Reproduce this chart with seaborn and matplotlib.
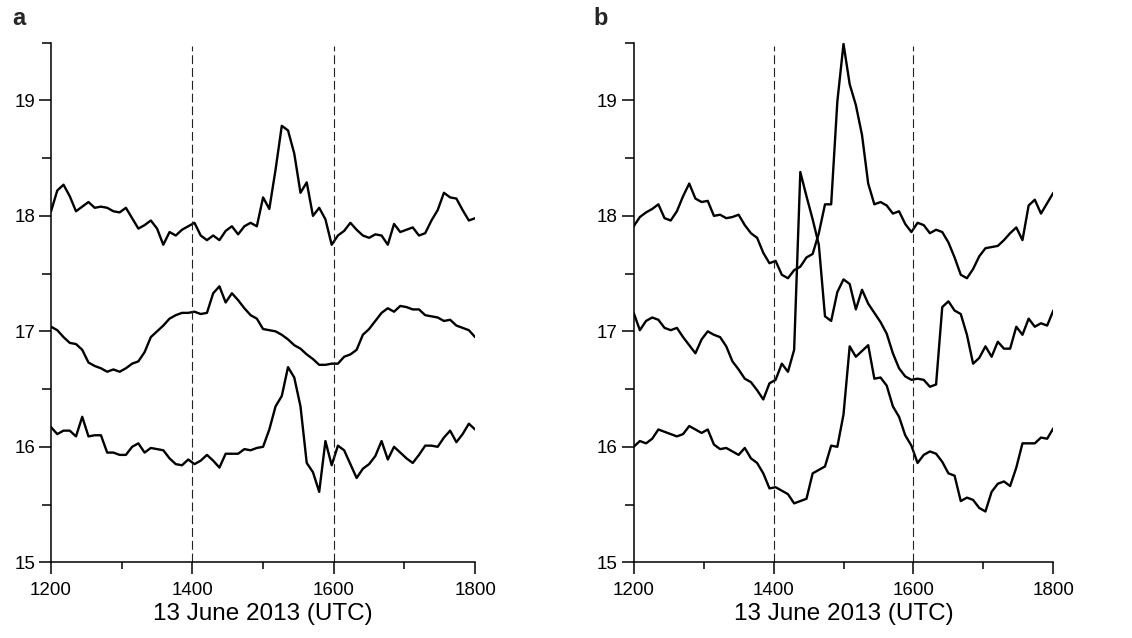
import numpy as np
import pandas as pd
import matplotlib
matplotlib.use("Agg")
import matplotlib.pyplot as plt
from matplotlib.ticker import MultipleLocator, FixedLocator
import seaborn as sns

# ---- data: three traces per panel, sampled evenly from 1200 to 1800 UTC ----
panel_a_upper = [18.04, 18.22, 18.27, 18.17, 18.04, 18.08, 18.12, 18.07, 18.08, 18.07,
                 18.04, 18.03, 18.07, 17.98, 17.89, 17.92, 17.96, 17.89, 17.75, 17.86,
                 17.83, 17.88, 17.91, 17.94, 17.83, 17.79, 17.83, 17.79, 17.87, 17.91,
                 17.84, 17.91, 17.94, 17.91, 18.16, 18.06, 18.40, 18.78, 18.74, 18.54,
                 18.20, 18.29, 18.00, 18.07, 17.97, 17.75, 17.83, 17.87, 17.94, 17.88,
                 17.83, 17.81, 17.84, 17.83, 17.75, 17.93, 17.86, 17.88, 17.90, 17.83,
                 17.85, 17.96, 18.05, 18.20, 18.16, 18.15, 18.05, 17.96, 17.98]
panel_a_middle = [17.04, 17.01, 16.95, 16.90, 16.89, 16.84, 16.73, 16.70, 16.68, 16.65,
                  16.67, 16.65, 16.68, 16.72, 16.74, 16.82, 16.95, 17.00, 17.05, 17.11,
                  17.14, 17.16, 17.16, 17.17, 17.15, 17.16, 17.33, 17.39, 17.25, 17.33,
                  17.27, 17.20, 17.14, 17.11, 17.02, 17.01, 17.00, 16.97, 16.93, 16.88,
                  16.85, 16.80, 16.76, 16.71, 16.71, 16.72, 16.72, 16.78, 16.80, 16.84,
                  16.97, 17.02, 17.09, 17.16, 17.20, 17.17, 17.22, 17.21, 17.19, 17.19,
                  17.14, 17.13, 17.12, 17.09, 17.10, 17.05, 17.03, 17.01, 16.95]
panel_a_lower = [16.17, 16.11, 16.14, 16.14, 16.09, 16.26, 16.09, 16.10, 16.10, 15.95,
                 15.95, 15.93, 15.93, 16.00, 16.03, 15.95, 15.99, 15.98, 15.97, 15.90,
                 15.85, 15.84, 15.89, 15.85, 15.88, 15.93, 15.88, 15.82, 15.94, 15.94,
                 15.94, 15.98, 15.97, 15.99, 16.00, 16.15, 16.35, 16.44, 16.69, 16.60,
                 16.35, 15.86, 15.78, 15.61, 16.05, 15.84, 16.01, 15.97, 15.85, 15.73,
                 15.81, 15.85, 15.92, 16.05, 15.89, 16.00, 15.95, 15.90, 15.86, 15.93,
                 16.01, 16.01, 16.00, 16.08, 16.14, 16.04, 16.11, 16.20, 16.15]

panel_b_upper = [17.91, 17.99, 18.03, 18.06, 18.10, 17.98, 17.96, 18.04, 18.17, 18.28,
                 18.15, 18.12, 18.13, 18.00, 18.01, 17.98, 17.99, 18.01, 17.92, 17.85,
                 17.81, 17.68, 17.59, 17.61, 17.49, 17.46, 17.53, 17.56, 17.64, 17.67,
                 17.85, 18.10, 18.10, 18.99, 19.49, 19.14, 18.96, 18.70, 18.28, 18.10,
                 18.12, 18.09, 18.02, 18.04, 17.93, 17.86, 17.94, 17.92, 17.85, 17.88,
                 17.86, 17.77, 17.64, 17.49, 17.46, 17.54, 17.65, 17.72, 17.73, 17.74,
                 17.79, 17.85, 17.90, 17.79, 18.09, 18.14, 18.02, 18.11, 18.20]
panel_b_middle = [17.16, 17.01, 17.09, 17.12, 17.10, 17.03, 17.01, 17.03, 16.95, 16.88,
                  16.81, 16.93, 17.00, 16.97, 16.95, 16.87, 16.74, 16.67, 16.59, 16.56,
                  16.49, 16.41, 16.55, 16.58, 16.72, 16.65, 16.84, 18.38, 18.17, 17.97,
                  17.75, 17.13, 17.09, 17.34, 17.45, 17.41, 17.19, 17.36, 17.24, 17.16,
                  17.08, 16.98, 16.81, 16.68, 16.61, 16.58, 16.59, 16.58, 16.52, 16.54,
                  17.21, 17.26, 17.18, 17.15, 16.97, 16.72, 16.77, 16.87, 16.78, 16.91,
                  16.85, 16.85, 17.04, 16.97, 17.11, 17.04, 17.07, 17.05, 17.18]
panel_b_lower = [16.00, 16.05, 16.03, 16.07, 16.15, 16.13, 16.11, 16.09, 16.11, 16.18,
                 16.15, 16.12, 16.15, 16.02, 15.98, 15.99, 15.96, 15.93, 15.99, 15.90,
                 15.86, 15.77, 15.64, 15.65, 15.62, 15.59, 15.51, 15.53, 15.55, 15.77,
                 15.80, 15.83, 16.01, 16.00, 16.28, 16.87, 16.78, 16.83, 16.88, 16.59,
                 16.60, 16.53, 16.35, 16.26, 16.10, 16.01, 15.86, 15.93, 15.96, 15.94,
                 15.87, 15.77, 15.75, 15.53, 15.56, 15.54, 15.47, 15.44, 15.61, 15.68,
                 15.70, 15.66, 15.82, 16.03, 16.03, 16.03, 16.08, 16.07, 16.16]

panel_names = ["a", "b"]
event_times = [1400, 1600]
x_ticks = [1200, 1400, 1600, 1800]
y_ticks = [15, 16, 17, 18, 19]
x_label = "13 June 2013 (UTC)"
time_start, time_end = 1200, 1800


def to_long(panel, traces):
    frames = []
    for name, vals in traces.items():
        t = np.linspace(time_start, time_end, len(vals))
        frames.append(pd.DataFrame({"panel": panel, "trace": name, "time": t, "value": vals}))
    return pd.concat(frames, ignore_index=True)


df = pd.concat([
    to_long("a", {"upper": panel_a_upper, "middle": panel_a_middle, "lower": panel_a_lower}),
    to_long("b", {"upper": panel_b_upper, "middle": panel_b_middle, "lower": panel_b_lower}),
], ignore_index=True)

sns.set_theme(style="ticks")
plt.rcParams["font.family"] = ["Liberation Sans", "DejaVu Sans"]

fig = plt.figure(figsize=(11.32, 6.38), dpi=100)
axes_rects = [[0.0451, 0.1187, 0.3746, 0.8144], [0.5598, 0.1187, 0.3707, 0.8144]]
label_x = [0.0106, 0.5247]

for name, rect, lx in zip(panel_names, axes_rects, label_x):
    ax = fig.add_axes(rect)
    sub = df[df["panel"] == name]
    sns.lineplot(data=sub, x="time", y="value", units="trace", estimator=None,
                 color="black", linewidth=1.7, ax=ax, legend=False)
    ax.vlines(event_times, 15, 19.47, colors="#222222", linewidth=0.8,
              linestyles=(0, (8, 3.5)))
    ax.set_xlim(time_start, time_end)
    ax.set_ylim(15, 19.5)
    ax.xaxis.set_major_locator(FixedLocator(x_ticks))
    ax.xaxis.set_minor_locator(MultipleLocator(100))
    ax.yaxis.set_major_locator(FixedLocator(y_ticks))
    ax.yaxis.set_minor_locator(MultipleLocator(0.5))
    ax.set_xticklabels([str(v) for v in x_ticks])
    ax.set_yticklabels([str(v) for v in y_ticks])
    ax.tick_params(axis="both", which="major", length=8.5, width=1.1, colors="black",
                   labelsize=13.5)
    ax.tick_params(axis="x", which="major", pad=6)
    ax.tick_params(axis="y", which="major", pad=3)
    ax.tick_params(axis="y", which="minor", length=6.5, width=1.1, colors="black")
    ax.tick_params(axis="x", which="minor", length=5, width=1.1, colors="black")
    for side in ["top", "right"]:
        ax.spines[side].set_visible(False)
    for side in ["left", "bottom"]:
        ax.spines[side].set_linewidth(1.1)
        ax.spines[side].set_color("black")
    ax.set_xlabel(x_label, fontsize=17.5, labelpad=2.5, color="black")
    ax.set_ylabel("")
    ax.set_facecolor("white")
    fig.text(lx, 0.961, name, fontsize=17, fontweight="bold", va="baseline", ha="left")

fig.savefig("out.png", dpi=100, facecolor="white")
